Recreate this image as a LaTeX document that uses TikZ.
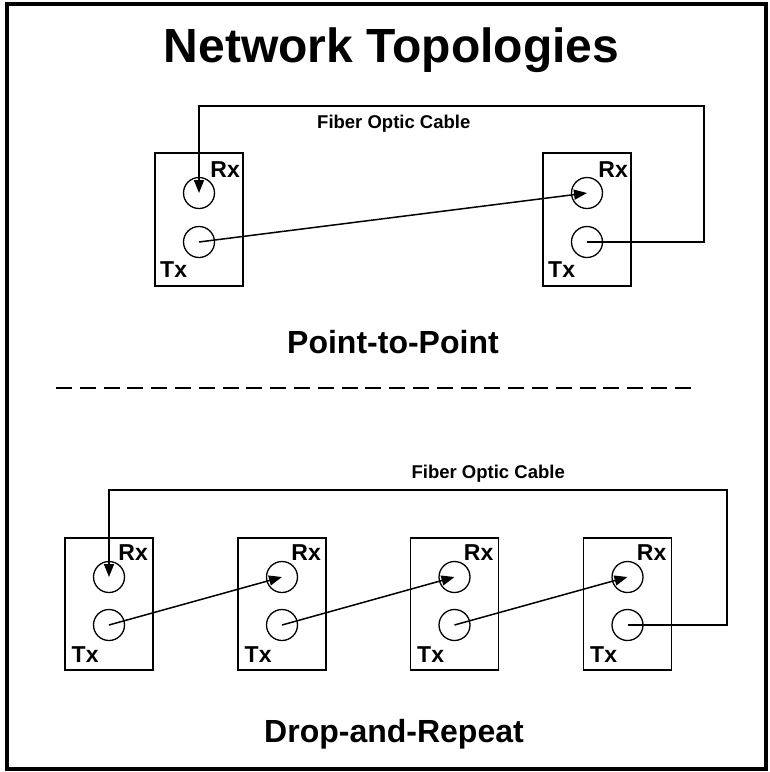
\documentclass[tikz,border=0pt]{standalone}
\usepackage{fontspec}
\setmainfont{Liberation Sans}
\usetikzlibrary{arrows.meta}
\begin{document}
\begin{tikzpicture}[x=1pt,y=-1pt,
  dev/.style={draw,line width=1.6pt,minimum width=88pt,minimum height=133pt,inner sep=0pt},
  port/.style={draw,circle,line width=1.3pt,minimum size=31pt,inner sep=0pt},
  cable/.style={line width=1.5pt,-{Triangle[length=13pt,width=10pt]}},
  lbl/.style={font=\fontsize{23}{23}\selectfont\bfseries,inner sep=0pt},
  cablelbl/.style={font=\fontsize{18.5}{18.5}\selectfont\bfseries,inner sep=0pt},
  headlbl/.style={font=\fontsize{32}{32}\selectfont\bfseries,inner sep=0pt}
]
\useasboundingbox (0,0) rectangle (770,772);
\draw[line width=4pt] (7,4) rectangle (766,769);
\node[font=\fontsize{48}{48}\selectfont\bfseries,anchor=base,inner sep=0pt] (title) at (391.5,62) {Network Topologies};

% Point-to-point
\node[dev] (A) at (199,219.5) {};
\node[port] (Arx) at (199,193) {};
\node[port] (Atx) at (199,242) {};
\node[lbl,anchor=base east] (Arxl) at (240,177) {Rx};
\node[lbl,anchor=base west] (Atxl) at (160,277) {Tx};

\node[dev] (B) at (587,219.5) {};
\node[port] (Brx) at (587,193) {};
\node[port] (Btx) at (587,242) {};
\node[lbl,anchor=base east] (Brxl) at (628,177) {Rx};
\node[lbl,anchor=base west] (Btxl) at (548,277) {Tx};

\coordinate (ctop) at (704,106);
\draw[cable] (Btx.center) -| (ctop) -| (Arx.center);
\draw[cable] (Atx.center) -- (Brx.center);
\node[cablelbl,anchor=base west] (fo1) at (317,128) {Fiber Optic Cable};
\node[headlbl,anchor=base west] (p2p) at (287,353) {Point-to-Point};

\draw[line width=2pt,dash pattern=on 16pt off 7.8pt] (56,388) -- (697,388);

% Drop-and-repeat
\foreach \n/\x in {1/109,2/282,3/454.5,4/627.5}{
  \node[dev,minimum height=132pt] (D\n) at (\x,604) {};
  \node[port] (D\n rx) at (\x,577) {};
  \node[port] (D\n tx) at (\x,625) {};
  \node[lbl,anchor=base east] (D\n rxl) at (\x+39,560) {Rx};
  \node[lbl,anchor=base west] (D\n txl) at (\x-37.5,662) {Tx};
}
\coordinate (cbot) at (727,490);
\draw[cable] (D4tx.center) -| (cbot) -| (D1rx.center);
\draw[cable] (D1tx.center) -- (D2rx.center);
\draw[cable] (D2tx.center) -- (D3rx.center);
\draw[cable] (D3tx.center) -- (D4rx.center);
\node[cablelbl,anchor=base east] (fo2) at (565,478) {Fiber Optic Cable};
\node[headlbl,anchor=base] (dar) at (394,742) {Drop-and-Repeat};
\end{tikzpicture}
\end{document}
